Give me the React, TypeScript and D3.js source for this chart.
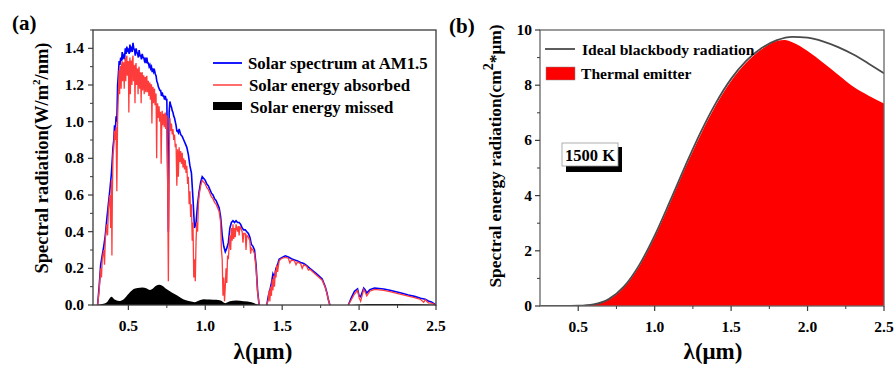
import React from 'react';
import * as d3 from 'd3';

// ---------- Panel (a) data: [wavelength µm, value W/m²/nm] ----------
const solarAM15: [number, number | null][] = [
  [0.30, 0], [0.31, 0.10], [0.32, 0.22], [0.33, 0.27], [0.34, 0.32], [0.35, 0.38], [0.36, 0.47], [0.37, 0.55],
  [0.38, 0.63], [0.39, 0.72], [0.40, 0.86], [0.405, 0.90], [0.41, 0.98], [0.415, 0.95], [0.42, 1.03], [0.425, 1.00],
  [0.43, 1.20], [0.435, 1.26], [0.44, 1.33], [0.445, 1.31], [0.45, 1.35], [0.455, 1.33], [0.46, 1.38], [0.465, 1.35],
  [0.47, 1.36], [0.475, 1.34], [0.48, 1.40], [0.485, 1.37], [0.49, 1.41], [0.495, 1.38], [0.50, 1.40], [0.505, 1.37],
  [0.51, 1.42], [0.515, 1.39], [0.52, 1.40], [0.525, 1.38], [0.53, 1.43], [0.535, 1.40], [0.54, 1.39], [0.545, 1.36],
  [0.55, 1.40], [0.555, 1.38], [0.56, 1.37], [0.565, 1.35], [0.57, 1.39], [0.575, 1.36], [0.58, 1.36], [0.585, 1.34],
  [0.59, 1.37], [0.595, 1.35], [0.60, 1.35], [0.605, 1.33], [0.61, 1.34], [0.615, 1.32], [0.62, 1.35], [0.625, 1.32],
  [0.63, 1.32], [0.635, 1.30], [0.64, 1.31], [0.645, 1.29], [0.65, 1.30], [0.655, 1.27], [0.66, 1.29], [0.665, 1.27],
  [0.67, 1.28], [0.675, 1.26], [0.68, 1.25], [0.685, 1.22], [0.69, 1.21], [0.695, 1.19], [0.70, 1.18], [0.705, 1.17],
  [0.71, 1.17], [0.715, 1.14], [0.72, 1.16], [0.725, 1.14], [0.73, 1.14], [0.735, 1.12], [0.74, 1.14], [0.745, 1.12],
  [0.75, 1.12], [0.76, 0.40], [0.765, 1.05], [0.77, 1.11], [0.775, 1.09], [0.78, 1.08], [0.785, 1.06], [0.79, 1.05],
  [0.795, 1.03], [0.80, 1.02], [0.81, 0.98], [0.815, 0.95], [0.82, 0.95], [0.825, 0.94], [0.83, 0.96], [0.84, 0.93],
  [0.85, 0.92], [0.86, 0.90], [0.87, 0.88], [0.88, 0.86], [0.89, 0.82], [0.90, 0.76], [0.91, 0.72], [0.92, 0.58],
  [0.93, 0.42], [0.94, 0.45], [0.95, 0.55], [0.96, 0.62], [0.97, 0.67], [0.98, 0.70], [0.99, 0.69], [1.00, 0.68],
  [1.01, 0.66], [1.02, 0.65], [1.03, 0.63], [1.04, 0.61], [1.05, 0.60], [1.06, 0.58], [1.07, 0.57], [1.08, 0.55],
  [1.09, 0.53], [1.10, 0.48], [1.11, 0.38], [1.12, 0.32], [1.13, 0.29], [1.14, 0.31], [1.15, 0.34], [1.16, 0.42],
  [1.17, 0.45], [1.18, 0.46], [1.19, 0.45], [1.20, 0.46], [1.21, 0.45], [1.22, 0.45], [1.23, 0.44], [1.24, 0.42],
  [1.25, 0.41], [1.26, 0.41], [1.27, 0.40], [1.28, 0.39], [1.29, 0.37], [1.30, 0.33], [1.31, 0.32], [1.32, 0.30],
  [1.33, 0.22], [1.34, 0.08], [1.35, 0], [1.37, null],
  [1.40, 0], [1.41, 0.05], [1.42, 0.08], [1.43, 0.12], [1.44, 0.17], [1.45, 0.15], [1.46, 0.20], [1.47, 0.22],
  [1.48, 0.25], [1.50, 0.26], [1.52, 0.268], [1.54, 0.262], [1.56, 0.252], [1.58, 0.246], [1.60, 0.24],
  [1.62, 0.232], [1.64, 0.226], [1.66, 0.215], [1.68, 0.20], [1.70, 0.186], [1.72, 0.172], [1.74, 0.157],
  [1.76, 0.142], [1.78, 0.10], [1.79, 0.07], [1.80, 0.03], [1.81, 0], [1.87, null],
  [1.93, 0], [1.95, 0.04], [1.97, 0.075], [1.99, 0.088], [2.00, 0.05], [2.01, 0.045], [2.03, 0.092], [2.04, 0.082],
  [2.05, 0.065], [2.07, 0.084], [2.10, 0.092], [2.13, 0.09], [2.16, 0.087], [2.20, 0.08], [2.24, 0.072],
  [2.28, 0.064], [2.32, 0.055], [2.36, 0.047], [2.40, 0.037], [2.43, 0.032], [2.45, 0.022], [2.47, 0.017],
  [2.49, 0.006], [2.50, 0],
];

const solarAbsorbed: [number, number | null][] = [
  [0.30, 0], [0.31, 0.08], [0.32, 0.20], [0.325, 0.15], [0.33, 0.25], [0.34, 0.30], [0.345, 0.22], [0.35, 0.36],
  [0.36, 0.44], [0.365, 0.38], [0.37, 0.52], [0.38, 0.60], [0.385, 0.42], [0.39, 0.68], [0.393, 0.27],
  [0.396, 0.60], [0.40, 0.82], [0.405, 0.86], [0.41, 0.95], [0.415, 0.90], [0.42, 0.97], [0.425, 0.62],
  [0.43, 1.02], [0.435, 1.15],
  [0.44, 1.28], [0.443, 1.15], [0.446, 1.30], [0.45, 1.30], [0.453, 1.18], [0.456, 1.31], [0.46, 1.33],
  [0.463, 1.22], [0.466, 1.32], [0.47, 1.32], [0.473, 1.18], [0.476, 1.30], [0.48, 1.35], [0.483, 1.22],
  [0.486, 1.33], [0.49, 1.36], [0.493, 1.25], [0.496, 1.32], [0.50, 1.33], [0.503, 1.05], [0.506, 1.30],
  [0.51, 1.35], [0.513, 1.15], [0.516, 1.33], [0.52, 1.33], [0.523, 1.20], [0.526, 1.33], [0.53, 1.36],
  [0.533, 1.22], [0.536, 1.31], [0.54, 1.30], [0.543, 1.10], [0.546, 1.30], [0.55, 1.32], [0.553, 1.20],
  [0.556, 1.29], [0.56, 1.28], [0.563, 1.15], [0.566, 1.28], [0.57, 1.30], [0.573, 1.18], [0.576, 1.27],
  [0.58, 1.26], [0.583, 1.10], [0.586, 1.26], [0.59, 1.27], [0.593, 1.17], [0.596, 1.25], [0.60, 1.25],
  [0.603, 1.15], [0.606, 1.24], [0.61, 1.24], [0.613, 1.16], [0.616, 1.24], [0.62, 1.25], [0.623, 1.16],
  [0.626, 1.22], [0.63, 1.22], [0.633, 1.14], [0.636, 1.21], [0.64, 1.21], [0.643, 1.12], [0.646, 1.20],
  [0.65, 1.20], [0.653, 0.99], [0.656, 1.18], [0.66, 1.19], [0.663, 1.10], [0.666, 1.17], [0.67, 1.18],
  [0.673, 1.09], [0.676, 1.15], [0.68, 1.15], [0.684, 0.80], [0.687, 1.08], [0.69, 1.10], [0.693, 1.02],
  [0.696, 1.08], [0.70, 1.08], [0.703, 1.00], [0.706, 1.05], [0.71, 1.05], [0.713, 0.77], [0.716, 0.95],
  [0.72, 1.06], [0.723, 0.98], [0.726, 1.04], [0.73, 1.04], [0.733, 0.97], [0.736, 1.03], [0.74, 1.05],
  [0.743, 0.96], [0.746, 1.03], [0.75, 1.03], [0.755, 0.70], [0.76, 0.13], [0.765, 0.80], [0.77, 1.02],
  [0.775, 0.95], [0.78, 0.99], [0.785, 0.93], [0.79, 0.96], [0.795, 0.90], [0.80, 0.93], [0.805, 0.86],
  [0.81, 0.88], [0.815, 0.65], [0.82, 0.85], [0.825, 0.70], [0.83, 0.86], [0.835, 0.78], [0.84, 0.84],
  [0.845, 0.77], [0.85, 0.83], [0.855, 0.75], [0.86, 0.80], [0.865, 0.74], [0.87, 0.79], [0.875, 0.72],
  [0.88, 0.76], [0.885, 0.66], [0.89, 0.70], [0.895, 0.55], [0.90, 0.62], [0.905, 0.48], [0.91, 0.55],
  [0.915, 0.35], [0.92, 0.45], [0.925, 0.15], [0.93, 0.25], [0.935, 0.13], [0.94, 0.35], [0.945, 0.45],
  [0.95, 0.40], [0.955, 0.55], [0.96, 0.60], [0.97, 0.65], [0.98, 0.68], [0.99, 0.67], [1.00, 0.66], [1.01, 0.64],
  [1.02, 0.63], [1.03, 0.61], [1.04, 0.59], [1.05, 0.58], [1.06, 0.56], [1.07, 0.55], [1.08, 0.53],
  [1.09, 0.51], [1.10, 0.45], [1.105, 0.30], [1.11, 0.25], [1.115, 0.05], [1.12, 0.15], [1.125, 0.02],
  [1.13, 0.10], [1.135, 0.20], [1.14, 0.12], [1.145, 0.27], [1.15, 0.25], [1.155, 0.32], [1.16, 0.38],
  [1.165, 0.30], [1.17, 0.42], [1.175, 0.35], [1.18, 0.44], [1.185, 0.36], [1.19, 0.42], [1.195, 0.37],
  [1.20, 0.44], [1.21, 0.40], [1.215, 0.43], [1.22, 0.38], [1.225, 0.43], [1.23, 0.42], [1.24, 0.40],
  [1.245, 0.34], [1.25, 0.39], [1.26, 0.39], [1.265, 0.30], [1.27, 0.38], [1.28, 0.37], [1.29, 0.35],
  [1.295, 0.28], [1.30, 0.31], [1.31, 0.30], [1.32, 0.28], [1.33, 0.20], [1.34, 0.07], [1.35, 0], [1.37, null],
  [1.40, 0], [1.41, 0.03], [1.415, 0.08], [1.42, 0.02], [1.425, 0.10], [1.43, 0.05], [1.435, 0.14],
  [1.44, 0.08], [1.445, 0.16], [1.45, 0.10], [1.455, 0.19], [1.46, 0.15], [1.465, 0.22], [1.47, 0.18],
  [1.48, 0.24], [1.49, 0.25], [1.50, 0.255], [1.52, 0.26], [1.54, 0.255], [1.55, 0.23], [1.56, 0.245],
  [1.58, 0.24], [1.59, 0.22], [1.60, 0.235], [1.62, 0.225], [1.63, 0.20], [1.64, 0.22], [1.66, 0.21],
  [1.67, 0.19], [1.68, 0.195], [1.70, 0.18], [1.72, 0.165], [1.74, 0.15], [1.76, 0.135], [1.78, 0.095],
  [1.79, 0.065], [1.80, 0.03], [1.81, 0], [1.87, null],
  [1.93, 0], [1.95, 0.03], [1.97, 0.06], [1.99, 0.08], [2.00, 0.04], [2.01, 0.02], [2.03, 0.085], [2.04, 0.07],
  [2.05, 0.05], [2.07, 0.075], [2.10, 0.085], [2.13, 0.083], [2.16, 0.08], [2.20, 0.073], [2.24, 0.065],
  [2.28, 0.057], [2.32, 0.048], [2.36, 0.04], [2.40, 0.03], [2.42, 0.015], [2.43, 0.028], [2.45, 0.012],
  [2.47, 0.01], [2.49, 0.003], [2.50, 0],
];

const solarMissed: [number, number][] = [
  [0.30, 0], [0.33, 0.005], [0.36, 0.015], [0.39, 0.045], [0.41, 0.03], [0.44, 0.022], [0.47, 0.032],
  [0.50, 0.06], [0.53, 0.085], [0.56, 0.093], [0.59, 0.096], [0.62, 0.09], [0.64, 0.082], [0.66, 0.09],
  [0.68, 0.105], [0.70, 0.11], [0.72, 0.105], [0.74, 0.092], [0.77, 0.075], [0.80, 0.06], [0.83, 0.045],
  [0.86, 0.03], [0.90, 0.02], [0.93, 0.015], [0.96, 0.025], [0.99, 0.032], [1.03, 0.03], [1.07, 0.028],
  [1.10, 0.025], [1.13, 0.01], [1.16, 0.02], [1.20, 0.024], [1.25, 0.02], [1.30, 0.015], [1.33, 0.005],
  [1.35, 0], [1.95, 0], [2.0, 0.003], [2.1, 0.005], [2.4, 0.004], [2.5, 0],
];

// ---------- Panel (b) data ----------
const blackbody: [number, number][] = [
  [0.25, 0], [0.4, 0], [0.5, 0.01], [0.6, 0.06], [0.7, 0.25], [0.8, 0.71], [0.9, 1.49], [1.0, 2.55],
  [1.1, 3.79], [1.2, 5.07], [1.3, 6.28], [1.4, 7.35], [1.5, 8.23], [1.6, 8.89], [1.7, 9.35], [1.8, 9.63],
  [1.9, 9.75], [2.0, 9.72], [2.1, 9.59], [2.2, 9.38], [2.3, 9.11], [2.4, 8.78], [2.5, 8.43],
];
const thermalEmitter: [number, number][] = [
  [0.25, 0], [0.4, 0], [0.5, 0.01], [0.6, 0.05], [0.7, 0.23], [0.8, 0.68], [0.9, 1.44], [1.0, 2.49],
  [1.1, 3.72], [1.2, 5.0], [1.3, 6.2], [1.4, 7.27], [1.5, 8.15], [1.6, 8.82], [1.7, 9.3], [1.8, 9.6],
  [1.85, 9.64], [1.9, 9.56], [1.95, 9.42], [2.0, 9.24], [2.1, 8.82], [2.2, 8.38], [2.3, 7.94], [2.4, 7.62],
  [2.5, 7.34],
];

const aYTicks = [0, 0.2, 0.4, 0.6, 0.8, 1.0, 1.2, 1.4];
const aYMinor = [0.1, 0.3, 0.5, 0.7, 0.9, 1.1, 1.3, 1.5];
const xTicks = [0.5, 1.0, 1.5, 2.0, 2.5];
const xMinor = [0.75, 1.25, 1.75, 2.25];
const bYTicks = [0, 2, 4, 6, 8, 10];
const bYMinor = [1, 3, 5, 7, 9];

const legendA = ['Solar spectrum at AM1.5', 'Solar energy absorbed', 'Solar energy missed'];
const legendB = ['Ideal blackbody radiation', 'Thermal emitter'];

const FONT = '"Liberation Serif", "Times New Roman", serif';
const AXIS = '#3a3a3a';

export default function App() {
  // Panel (a) scales
  const xa = d3.scaleLinear().domain([0.27, 2.5]).range([93, 436]);
  const ya = d3.scaleLinear().domain([0, 1.5]).range([305, 30]);
  // Panel (b) scales
  const xb = d3.scaleLinear().domain([0.25, 2.5]).range([540, 884]);
  const yb = d3.scaleLinear().domain([0, 10]).range([306, 30]);

  const lineA = d3
    .line<[number, number | null]>()
    .defined((d) => d[1] !== null)
    .x((d) => xa(d[0]))
    .y((d) => ya(d[1] as number));
  const areaMissed = d3
    .area<[number, number]>()
    .x((d) => xa(d[0]))
    .y0(ya(0))
    .y1((d) => ya(d[1]))
    .curve(d3.curveMonotoneX);

  const lineB = d3
    .line<[number, number]>()
    .x((d) => xb(d[0]))
    .y((d) => yb(d[1]))
    .curve(d3.curveMonotoneX);
  const areaB = d3
    .area<[number, number]>()
    .x((d) => xb(d[0]))
    .y0(yb(0))
    .y1((d) => yb(d[1]))
    .curve(d3.curveMonotoneX);

  const fmt1 = d3.format('.1f');

  const [ax0, ax1] = xa.range();
  const [ay0, ay1] = ya.range();
  const [bx0, bx1] = xb.range();
  const [by0, by1] = yb.range();

  return (
    <svg
      width={895}
      height={365}
      style={{ position: 'absolute', left: 0, top: 0, background: '#fff' }}
      fontFamily={FONT}
      fontWeight="bold"
    >
      <defs>
        <clipPath id="clipA">
          <rect x={ax0} y={ay1} width={ax1 - ax0} height={ay0 - ay1 + 1} />
        </clipPath>
        <clipPath id="clipB">
          <rect x={bx0} y={by1} width={bx1 - bx0} height={by0 - by1} />
        </clipPath>
      </defs>

      {/* ================= Panel (a) ================= */}
      <text x={12} y={30} fontSize={21}>(a)</text>
      <g clipPath="url(#clipA)">
        <path d={lineA(solarAM15) || ''} fill="none" stroke="#0000ff" strokeWidth={1.6} />
        <path d={lineA(solarAbsorbed) || ''} fill="none" stroke="#ff3c3c" strokeWidth={1.3} />
        <path d={areaMissed(solarMissed) || ''} fill="#000" />
      </g>
      <rect x={ax0} y={ay1} width={ax1 - ax0} height={ay0 - ay1} fill="none" stroke={AXIS} strokeWidth={1.3} />
      {aYTicks.map((t) => (
        <g key={'ay' + t}>
          <line x1={ax0 - 5} x2={ax0} y1={ya(t)} y2={ya(t)} stroke={AXIS} strokeWidth={1.2} />
          <text x={ax0 - 9} y={ya(t) + 5} fontSize={15.5} textAnchor="end">{fmt1(t)}</text>
        </g>
      ))}
      {aYMinor.map((t) => (
        <line key={'aym' + t} x1={ax0 - 3} x2={ax0} y1={ya(t)} y2={ya(t)} stroke={AXIS} strokeWidth={1} />
      ))}
      {xTicks.map((t) => (
        <g key={'ax' + t}>
          <line x1={xa(t)} x2={xa(t)} y1={ay0} y2={ay0 + 5} stroke={AXIS} strokeWidth={1.2} />
          <text x={xa(t)} y={ay0 + 26} fontSize={15.5} textAnchor="middle">{fmt1(t)}</text>
        </g>
      ))}
      {xMinor.map((t) => (
        <line key={'axm' + t} x1={xa(t)} x2={xa(t)} y1={ay0} y2={ay0 + 3} stroke={AXIS} strokeWidth={1} />
      ))}
      <text x={263} y={359} fontSize={23} textAnchor="middle">λ(μm)</text>
      <text
        transform={`translate(48, 158) rotate(-90)`}
        fontSize={18.5}
        textAnchor="middle"
      >
        Spectral radiation(W/m<tspan fontSize={11} dy={-8}>2</tspan><tspan dy={8}>/nm)</tspan>
      </text>
      {/* legend (a) */}
      <line x1={213} x2={242} y1={63} y2={63} stroke="#0000ff" strokeWidth={1.8} />
      <text x={248} y={69} fontSize={16.8}>{legendA[0]}</text>
      <line x1={213} x2={242} y1={85} y2={85} stroke="#ff3c3c" strokeWidth={1.5} />
      <text x={249} y={91} fontSize={16.8}>{legendA[1]}</text>
      <rect x={213} y={102} width={29} height={8} fill="#000" />
      <text x={250} y={113} fontSize={16.8}>{legendA[2]}</text>

      {/* ================= Panel (b) ================= */}
      <text x={449} y={33} fontSize={21}>(b)</text>
      <g clipPath="url(#clipB)">
        <path d={areaB(thermalEmitter) || ''} fill="#ff0000" />
        <path d={lineB(blackbody) || ''} fill="none" stroke="#4a4a4a" strokeWidth={1.8} />
      </g>
      <rect x={bx0} y={by1} width={bx1 - bx0} height={by0 - by1} fill="none" stroke="#666" strokeWidth={1.3} />
      {bYTicks.map((t) => (
        <g key={'by' + t}>
          <line x1={bx0 - 5} x2={bx0} y1={yb(t)} y2={yb(t)} stroke={AXIS} strokeWidth={1.2} />
          <text x={bx0 - 8} y={yb(t) + 5} fontSize={15.5} textAnchor="end">{t}</text>
        </g>
      ))}
      {bYMinor.map((t) => (
        <line key={'bym' + t} x1={bx0 - 3} x2={bx0} y1={yb(t)} y2={yb(t)} stroke={AXIS} strokeWidth={1} />
      ))}
      {xTicks.map((t) => (
        <g key={'bx' + t}>
          <line x1={xb(t)} x2={xb(t)} y1={by0} y2={by0 + 5} stroke={AXIS} strokeWidth={1.2} />
          <text x={xb(t)} y={by0 + 26} fontSize={15.5} textAnchor="middle">{fmt1(t)}</text>
        </g>
      ))}
      {xMinor.map((t) => (
        <line key={'bxm' + t} x1={xb(t)} x2={xb(t)} y1={by0} y2={by0 + 3} stroke={AXIS} strokeWidth={1} />
      ))}
      <text x={713} y={359} fontSize={23} textAnchor="middle">λ(μm)</text>
      <text
        transform={`translate(501, 156) rotate(-90)`}
        fontSize={17.4}
        textAnchor="middle"
      >
        Spectral energy radiation(cm<tspan fontSize={14} dy={-8}>2</tspan><tspan dy={8}>*μm)</tspan>
      </text>
      {/* legend (b) */}
      <line x1={545} x2={575} y1={49} y2={49} stroke="#4a4a4a" strokeWidth={1.8} />
      <text x={582} y={55} fontSize={15.6}>{legendB[0]}</text>
      <rect x={546} y={67} width={29} height={13} fill="#ff0000" stroke="#888" strokeWidth={0.5} />
      <text x={581} y={79} fontSize={15.6}>{legendB[1]}</text>
      {/* 1500 K label with shadow */}
      <rect x={566} y={147} width={56} height={25} fill="#000" />
      <rect x={562} y={143} width={56} height={23} fill="#fff" stroke="#999" strokeWidth={0.8} />
      <text x={590} y={161} fontSize={16.5} textAnchor="middle">1500 K</text>
    </svg>
  );
}
